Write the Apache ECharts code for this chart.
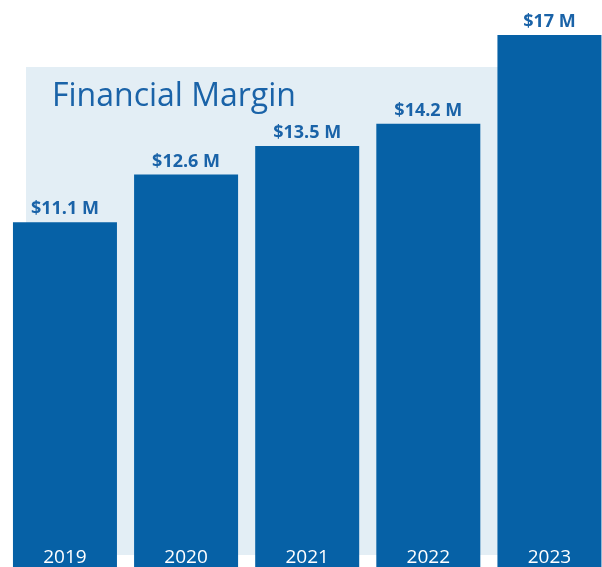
<!DOCTYPE html>
<html>
<head>
<meta charset="utf-8">
<script src="https://cdn.jsdelivr.net/npm/echarts@6/dist/echarts.min.js"></script>
<style>
  html, body { margin: 0; padding: 0; background: #fff; }
  #chart { width: 602px; height: 567px; }
</style>
</head>
<body>
<div id="chart"></div>
<script>
const years = ['2019', '2020', '2021', '2022', '2023']
const margins = [11.1, 12.6, 13.5, 14.2, 17]
const valueLabels = ['$11.1 M', '$12.6 M', '$13.5 M', '$14.2 M', '$17 M']

const chart = echarts.init(document.getElementById('chart'))
chart.setOption({
  animation: false,
  textStyle: { fontFamily: '"Open Sans", sans-serif' },
  title: {
    text: 'Financial Margin',
    left: 47,
    top: 76,
    textStyle: {
      fontFamily: '"Open Sans", sans-serif',
      fontSize: 32,
      fontWeight: 'normal',
      color: '#1a63a8'
    }
  },
  graphic: [
    {
      type: 'rect',
      z: -10,
      shape: { x: 26, y: 67, width: 472, height: 488 },
      style: { fill: '#e3eef5' }
    }
  ],
  // bars run past the bottom and right edges of the picture
  grid: {
    left: 4.4,
    top: 35,
    width: 605.6,
    height: 539.4,
    outerBoundsMode: 'none',
    containLabel: false
  },
  xAxis: {
    type: 'category',
    data: years,
    z: 10,
    axisLine: { show: false },
    axisTick: { show: false },
    axisLabel: {
      inside: true,
      margin: 7,
      color: '#ffffff',
      fontSize: 19,
      fontFamily: '"Open Sans", sans-serif'
    }
  },
  yAxis: {
    type: 'value',
    min: 0,
    max: 17,
    show: false,
    splitLine: { show: false }
  },
  series: [
    {
      type: 'bar',
      data: margins,
      barWidth: 104,
      itemStyle: { color: '#0661a6' },
      label: {
        show: true,
        position: 'top',
        distance: 4,
        color: '#1a63a8',
        fontSize: 18,
        fontWeight: 'bold',
        fontFamily: '"Open Sans", sans-serif',
        formatter: ({ dataIndex }) => valueLabels[dataIndex]
      }
    }
  ]
})
</script>
</body>
</html>
